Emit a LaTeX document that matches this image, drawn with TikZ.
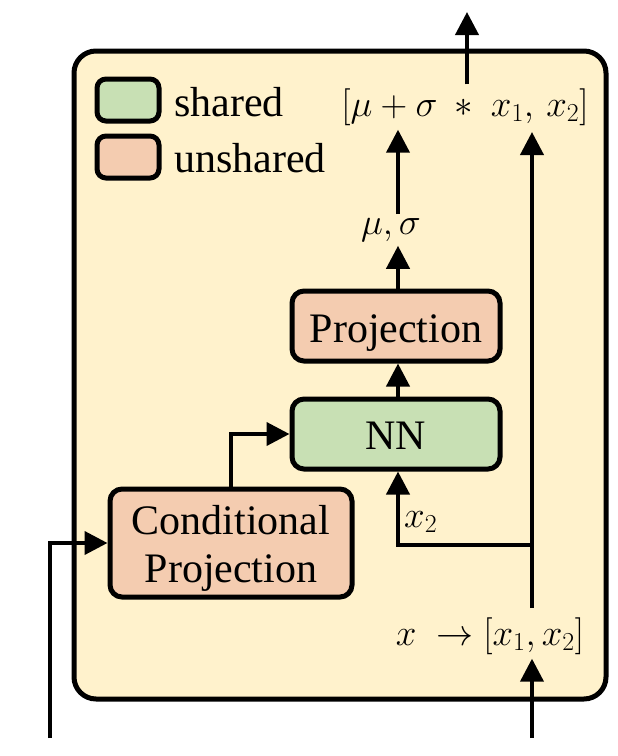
\RequirePackage{fix-cm}
\documentclass[tikz,border=0pt]{standalone}
\usepackage{fontspec}
\setmainfont{Liberation Serif}
\usetikzlibrary{arrows.meta}
\definecolor{outerfill}{RGB}{255,242,204}
\definecolor{sharedfill}{RGB}{200,224,180}
\definecolor{unsharedfill}{RGB}{244,204,176}
\tikzset{
  big/.style={font=\fontsize{42}{48}\selectfont},
  mth/.style={font=\fontsize{37}{42}\selectfont},
  arr/.style={line width=4pt,-{Triangle[length=23pt,width=23pt]}},
  blockbox/.style={draw,line width=5pt,rounded corners=12pt,big,inner sep=0pt},
  legbox/.style={draw,line width=5pt,rounded corners=9pt,minimum width=62pt,minimum height=42pt,inner sep=0pt},
}
\begin{document}
\begin{tikzpicture}[x=1pt,y=-1pt]
\useasboundingbox (0,0) rectangle (618,756);
% outer frame
\draw[line width=5pt,rounded corners=22pt,fill=outerfill] (74,51) rectangle (606,699);
% legend
\node[legbox,fill=sharedfill] (lgs) at (128,100) {};
\node[legbox,fill=unsharedfill] (lgu) at (128,157) {};
\node[big,anchor=base west,inner sep=0pt] (ts) at (174,116) {shared};
\node[big,anchor=base west,inner sep=0pt] (tu) at (174,172) {unshared};
% blocks
\node[blockbox,fill=unsharedfill,minimum width=208pt,minimum height=70pt,text height=34pt,text depth=2pt] (proj) at (396,326) {Projection};
\node[blockbox,fill=sharedfill,minimum width=208pt,minimum height=70pt,text height=32pt,text depth=2pt] (nn) at (396,434) {NN};
\node[blockbox,fill=unsharedfill,minimum width=242pt,minimum height=108pt,align=center] (cp) at (231,543) {\rule{0pt}{40pt}Conditional\\Projection};
% math labels
\node[mth,inner sep=4pt] (form) at (465,107) {$[\mu+\sigma\ \ast\ x_1,\,x_2]$};
\node[mth,inner sep=4pt] (musig) at (391,230) {$\mu,\sigma$};
\node[mth,inner sep=4pt] (xs) at (490,636) {$x\ \to[x_1,x_2]$};
\node[mth,inner sep=0pt,anchor=west] (x2l) at (404,522) {$x_2$};
% coordinates
\coordinate (topout) at (467,12);
\coordinate (cx) at (398,0);
\coordinate (inR) at (532,738);
\coordinate (inL) at (50,738);
\coordinate (split) at (532,608);
\coordinate (branch) at (532,545);
\coordinate (fbot) at (532,132);
% connectors
\draw[arr] (form.north -| topout) -- (topout);
\draw[arr] (musig.north -| cx) -- (form.south -| cx);
\draw[arr] (proj.north -| cx) -- (musig.south -| cx);
\draw[arr] (nn.north -| cx) -- (proj.south -| cx);
\draw[arr] (branch) -| (nn.south -| cx);
\draw[arr] (split) -- (fbot);
\draw[arr] (inR) -- (xs.south -| inR);
\draw[arr] (cp.north) |- (nn.west);
\draw[arr] (inL) |- (cp.west);
\end{tikzpicture}
\end{document}
